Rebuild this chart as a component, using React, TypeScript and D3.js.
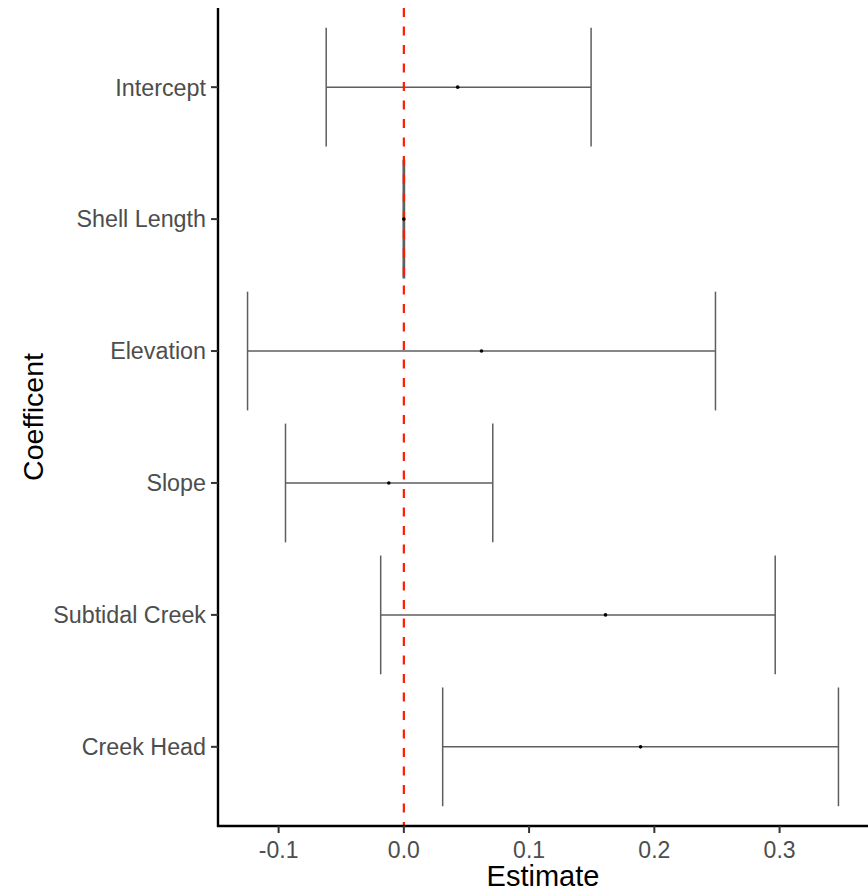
import React from 'react';
import * as d3 from 'd3';

// coefficient estimates with lower / upper bounds
const terms = ['Intercept', 'Shell Length', 'Elevation', 'Slope', 'Subtidal Creek', 'Creek Head'];
const estimates = [0.043, 0.0, 0.062, -0.012, 0.161, 0.189];
const lowers = [-0.062, -0.0005, -0.1248, -0.0945, -0.0185, 0.031];
const uppers = [0.1495, 0.0005, 0.2488, 0.071, 0.2965, 0.347];
const xTicks = [-0.1, 0.0, 0.1, 0.2, 0.3];

const W = 868;
const H = 892;
const margin = { left: 218, right: 0, top: 8, bottom: 66 };

const App = () => {
  const innerW = W - margin.left - margin.right;
  const innerH = H - margin.top - margin.bottom;

  // ggplot style 5% expansion
  const lo = d3.min(lowers) as number;
  const hi = d3.max(uppers) as number;
  const pad = (hi - lo) * 0.05;
  const x = d3.scaleLinear().domain([lo - pad, hi + pad]).range([0, innerW]);

  const y = d3.scalePoint<string>().domain(terms).range([0, innerH]).padding(0.6);
  const step = y.step();
  const capHalf = step * 0.45;

  const font = 'Liberation Sans, Arial, Helvetica, sans-serif';
  // plain hyphen for negatives, like the original
  const fmt = (v: number) => d3.format('.1f')(v).replace('\u2212', '-');

  return (
    <svg width={W} height={H} style={{ position: 'absolute', left: 0, top: 0, background: '#fff' }}>
      <g transform={`translate(${margin.left},${margin.top})`}>
        {/* error bars */}
        {terms.map((t, i) => {
          const cy = y(t) as number;
          return (
            <g key={t} stroke="#5e5e5e" strokeWidth={1.5}>
              <line x1={x(lowers[i])} x2={x(uppers[i])} y1={cy} y2={cy} />
              <line x1={x(lowers[i])} x2={x(lowers[i])} y1={cy - capHalf} y2={cy + capHalf} />
              <line x1={x(uppers[i])} x2={x(uppers[i])} y1={cy - capHalf} y2={cy + capHalf} />
            </g>
          );
        })}

        {/* zero reference */}
        <line x1={x(0)} x2={x(0)} y1={0} y2={innerH} stroke="#ff1a00" strokeWidth={2.2} strokeDasharray="9,9.5" />

        {/* point estimates */}
        {terms.map((t, i) => (
          <circle key={t} cx={x(estimates[i])} cy={y(t) as number} r={1.8} fill="#000" />
        ))}

        {/* axes */}
        <line x1={0} x2={0} y1={0} y2={innerH + 1} stroke="#000" strokeWidth={2.4} />
        <line x1={-1} x2={innerW} y1={innerH} y2={innerH} stroke="#000" strokeWidth={2.4} />

        {terms.map(t => (
          <g key={t} transform={`translate(0,${y(t)})`}>
            <line x1={-7} x2={0} stroke="#333" strokeWidth={2} />
            <text x={-12} dy="0.36em" textAnchor="end" fontFamily={font} fontSize={23.3} fill="#4d4d4d">
              {t}
            </text>
          </g>
        ))}

        {xTicks.map(v => (
          <g key={v} transform={`translate(${x(v)},${innerH})`}>
            <line y1={0} y2={7} stroke="#333" strokeWidth={2} />
            <text y={31.5} textAnchor="middle" fontFamily={font} fontSize={23} fill="#4d4d4d">
              {fmt(v)}
            </text>
          </g>
        ))}
      </g>

      <text x={margin.left + innerW / 2} y={886} textAnchor="middle" fontFamily={font} fontSize={29} fill="#000">
        Estimate
      </text>
      <text
        transform={`translate(43,${margin.top + innerH / 2}) rotate(-90)`}
        textAnchor="middle"
        fontFamily={font}
        fontSize={28.5}
        fill="#000"
      >
        Coefficent
      </text>
    </svg>
  );
};

export default App;
